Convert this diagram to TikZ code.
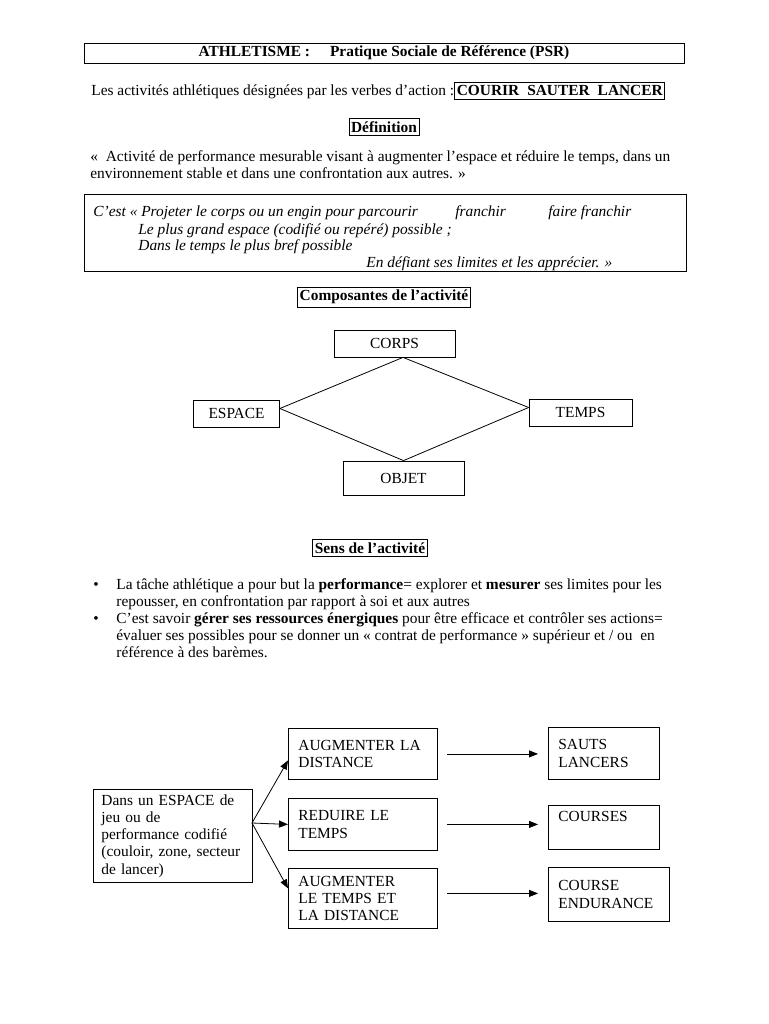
\documentclass[tikz,border=0pt]{standalone}
\usepackage{fontspec}
\setmainfont{Liberation Serif}
\usetikzlibrary{arrows.meta}
\newcommand\myfs{\fontsize{15.4}{17.3}\selectfont}
\begin{document}
\begin{tikzpicture}[x=1pt,y=-1pt,
  every node/.style={inner sep=0pt, font=\myfs},
  line width=0.8pt,
  txt/.style={anchor=base west, font=\myfs},
  itx/.style={anchor=base west, font=\myfs\itshape},
  hdr/.style={draw, font=\myfs\bfseries, inner xsep=2pt, inner ysep=3pt},
  cbox/.style={draw, font=\myfs},
  fbox/.style={draw, anchor=north west, align=left, inner xsep=10pt, font=\myfs},
  arr/.style={-{Triangle[length=9pt,width=7pt]}}
]
\fill[white] (0,0) rectangle (768,1024);
\useasboundingbox (0,0) rectangle (768,1024);

% Title
\node[draw, minimum width=600pt, minimum height=20pt, font=\myfs\bfseries] (title) at (384,53)
  {ATHLETISME :\hspace{20pt}Pratique Sociale de Référence (PSR)};

\node[txt] (verbsintro) at (91,96) {Les activités athlétiques désignées par les verbes d’action :};
\node[draw, anchor=base west, font=\myfs\bfseries, inner xsep=2pt, inner ysep=3pt] (verbs) at (verbsintro.base east)
  {COURIR\hspace{8pt}SAUTER\hspace{8pt}LANCER};

\node[hdr] (defn) at (384,127) {Définition};

\node[txt] (q1) at (90,162) {«\ \ Activité de performance mesurable visant à augmenter l’espace et réduire le temps, dans un};
\node[txt] (q2) at (90,179) {environnement stable et dans une confrontation aux autres. »};

% Definition box
\node[draw, minimum width=602pt, minimum height=77pt] (defbox) at (385,232.5) {};
\node[itx] (d1) at (93,217) {C’est « Projeter le corps ou un engin pour parcourir};
\node[itx] (d1b) at (455,217) {franchir};
\node[itx] (d1c) at (548,217) {faire franchir};
\node[itx] (d2) at (138,234) {Le plus grand espace (codifié ou repéré) possible ;};
\node[itx] (d3) at (138,250) {Dans le temps le plus bref possible};
\node[itx] (d4) at (366,267) {En défiant ses limites et les apprécier. »};

% Composantes
\node[hdr] (comp) at (384,297) {Composantes de l’activité};
\node[cbox, minimum width=121pt, minimum height=27pt] (corps) at (394.5,343.5) {CORPS};
\node[cbox, minimum width=86pt, minimum height=27pt] (espace) at (236.5,413.5) {ESPACE};
\node[cbox, minimum width=103pt, minimum height=27pt] (temps) at (580.5,412.5) {TEMPS};
\node[cbox, minimum width=121pt, minimum height=34pt] (objet) at (403.5,478) {OBJET};
\draw ([xshift=8.5pt]corps.south) -- ([yshift=5pt]espace.east);
\draw ([yshift=5pt]espace.east) -- (objet.north);
\draw (objet.north) -- ([yshift=5pt]temps.west);
\draw ([yshift=5pt]temps.west) -- ([xshift=8.5pt]corps.south);

% Sens
\node[hdr] (sens) at (370,548) {Sens de l’activité};
\node[anchor=base, font=\myfs] (bul1) at (96,589) {•};
\node[txt] (s1) at (116,589) {La tâche athlétique a pour but la \textbf{performance}= explorer et \textbf{mesurer} ses limites pour les};
\node[txt] (s2) at (116,606) {repousser, en confrontation par rapport à soi et aux autres};
\node[anchor=base, font=\myfs] (bul2) at (96,623) {•};
\node[txt] (s3) at (116,623) {C’est savoir \textbf{gérer ses ressources énergiques} pour être efficace et contrôler ses actions=};
\node[txt] (s4) at (116,640) {évaluer ses possibles pour se donner un « contrat de performance » supérieur et / ou\ \ en};
\node[txt] (s5) at (116,657) {référence à des barèmes.};

% Flow chart
\node[fbox, inner xsep=8pt, text width=143pt, minimum height=93pt] (space) at (93,789)
  {Dans un ESPACE de\\jeu ou de\\performance codifié\\(couloir, zone, secteur\\de lancer)};
\node[fbox, text width=129pt, minimum height=51pt] (a1) at (288,728) {AUGMENTER LA\\DISTANCE};
\node[fbox, text width=129pt, minimum height=52pt] (a2) at (288,798) {REDUIRE LE\\TEMPS};
\node[fbox, text width=129pt, minimum height=60pt] (a3) at (288,868) {AUGMENTER\\LE TEMPS ET\\LA DISTANCE};
\node[fbox, text width=91pt, minimum height=52pt] (b1) at (548,727) {SAUTS\\LANCERS};
\node[fbox, text width=91pt, minimum height=44pt] (b2) at (548,805) {COURSES\\\strut};
\node[fbox, text width=101pt, minimum height=54pt] (b3) at (548,867) {COURSE\\ENDURANCE};

\coordinate (fork) at (252,823);
\draw[arr] (fork) -- ([yshift=-6.5pt]a1.west);
\draw[arr] (fork) -- (a2.west);
\draw[arr] (fork) -- ([yshift=10pt]a3.west);

\coordinate (h1s) at ([xshift=9pt]a1.east);
\coordinate (h1e) at (h1s -| b1.west);
\coordinate (h2s) at ([xshift=9pt]a2.east);
\coordinate (h2e) at (h2s -| b2.west);
\coordinate (h3s) at ([xshift=9pt,yshift=5pt]a3.east);
\coordinate (h3e) at (h3s -| b3.west);
\draw[arr, shorten >=10pt] (h1s) -- (h1e);
\draw[arr, shorten >=10pt] (h2s) -- (h2e);
\draw[arr, shorten >=10pt] (h3s) -- (h3e);
\end{tikzpicture}
\end{document}
